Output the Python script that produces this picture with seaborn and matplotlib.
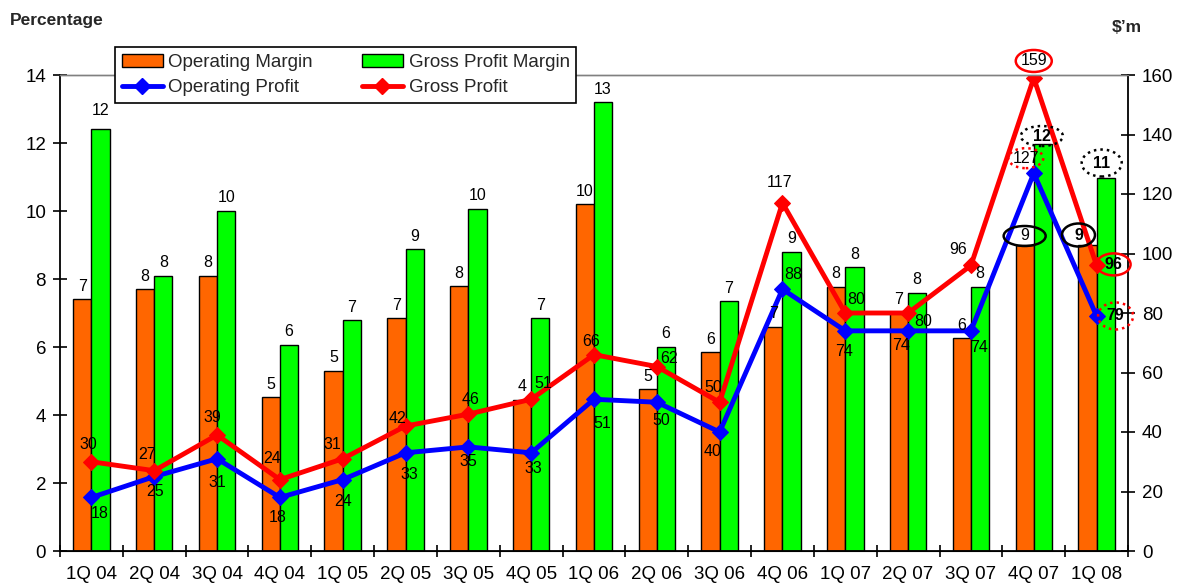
import numpy as np
import pandas as pd
import matplotlib
matplotlib.use('Agg')
import matplotlib.pyplot as plt
import matplotlib.transforms as mtransforms
from matplotlib.patches import Ellipse, Patch
from matplotlib.lines import Line2D
import seaborn as sns

sns.set_style('white')
plt.rcParams['font.family'] = ['Liberation Sans', 'DejaVu Sans']

# data
quarters = ['1Q 04', '2Q 04', '3Q 04', '4Q 04', '1Q 05', '2Q 05', '3Q 05', '4Q 05', '1Q 06',
            '2Q 06', '3Q 06', '4Q 06', '1Q 07', '2Q 07', '3Q 07', '4Q 07', '1Q 08']
op_margin = [7.4, 7.7, 8.1, 4.52, 5.3, 6.85, 7.78, 4.45, 10.2, 4.76, 5.85, 6.6, 7.77, 7.0, 6.26, 9.0, 9.0]
gp_margin = [12.42, 8.1, 10.0, 6.06, 6.78, 8.88, 10.06, 6.85, 13.2, 6.0, 7.35, 8.8, 8.35, 7.6, 7.77, 11.97, 10.97]
op_profit = [18, 25, 31, 18, 24, 33, 35, 33, 51, 50, 40, 88, 74, 74, 74, 127, 79]
gp_profit = [30, 27, 39, 24, 31, 42, 46, 51, 66, 62, 50, 117, 80, 80, 96, 159, 96]

ORANGE = '#FF6600'
GREEN = '#00FF00'
BLUE = '#0000FF'
RED = '#FF0000'

# label offsets in pixels (dx, dy)
op_offsets = [(8, -16), (1, -15), (0, -24), (-2, -20), (0, -22), (4, -22), (0, -15), (2, -16), (8, -24),
              (4, -18), (-7, -19), (11, 15), (-1, -21), (-7, -15), (8, -17), (-8, 15), (19, 0)]
gp_offsets = [(-3, 17), (-7, 16), (-5, 17), (-8, 21), (-10, 14), (-8, 8), (2, 15), (12, 16), (-3, 13),
              (12, 8), (-6, 15), (-3, 20), (11, 13), (15, -8), (-13, 16), (0, 17), (17, 1)]
bar_offsets = {('om', 15): (0, 9), ('om', 16): (-9, 10), ('gm', 15): (-1, 8), ('gm', 16): (-4, 15),
               ('gm', 0): (0, 18)}
# circled labels: (width, height, colour, linestyle, bold)
circled = {
    ('om', 15): (42, 20, 'black', '-', False),
    ('om', 16): (33, 23, 'black', '-', True),
    ('gm', 15): (42, 20, 'black', ':', True),
    ('gm', 16): (40, 27, 'black', ':', True),
    ('gp', 15): (36, 22, RED, '-', False),
    ('gp', 16): (34, 22, RED, '-', True),
    ('op', 15): (35, 20, RED, ':', False),
    ('op', 16): (35, 27, RED, ':', True),
}

n = len(quarters)
df = pd.DataFrame({
    'Quarter': quarters * 2,
    'Margin': op_margin + gp_margin,
    'Series': ['Operating Margin'] * n + ['Gross Profit Margin'] * n,
})

fig = plt.figure(figsize=(11.81, 5.85), dpi=100)
ax = fig.add_axes([60 / 1181, 34 / 585, 1068 / 1181, 476 / 585])

sns.barplot(data=df, x='Quarter', y='Margin', hue='Series', palette=[ORANGE, GREEN],
            width=0.58, saturation=1, edgecolor='black', linewidth=1, legend=False, ax=ax)
ax.set_xlabel('')
ax.set_ylabel('')
ax.set_ylim(0, 14)
ax.set_yticks(np.arange(0, 15, 2))
xpos = ax.get_xticks()
ax.set_xlim(-0.5, n - 0.5)

ax2 = ax.twinx()
sns.lineplot(x=xpos, y=op_profit, ax=ax2, color=BLUE, marker='D', markersize=8,
             markeredgecolor=BLUE, linewidth=3.5)
sns.lineplot(x=xpos, y=gp_profit, ax=ax2, color=RED, marker='D', markersize=8,
             markeredgecolor=RED, linewidth=3.5)
ax2.set_ylim(0, 160)
ax2.set_yticks(np.arange(0, 161, 20))
ax2.set_ylabel('')


def put_label(key, i, text, x, y, trans, dx, dy):
    spec = circled.get((key, i))
    bold = spec is not None and spec[4]
    ax2.annotate(text, xy=(x, y), xycoords=trans, xytext=(dx, dy), textcoords='offset pixels',
                 ha='center', va='center', fontsize=11.5, color='black',
                 fontweight='bold' if bold else 'normal', zorder=5)
    if spec is not None:
        w, h, col, ls, _ = spec
        e = Ellipse((dx, dy), w, h, fill=False, edgecolor=col, linewidth=1.8,
                    linestyle=ls if ls == '-' else (0, (1, 1.6)),
                    transform=mtransforms.ScaledTranslation(x, y, trans), zorder=6, clip_on=False)
        ax2.add_artist(e)


# bar labels
for key, cont, vals in zip(['om', 'gm'], ax.containers, [op_margin, gp_margin]):
    for i, (bar, v) in enumerate(zip(cont, vals)):
        dx, dy = bar_offsets.get((key, i), (0, 13))
        put_label(key, i, f'{v:.0f}', bar.get_x() + bar.get_width() / 2, bar.get_height(),
                  ax.transData, dx, dy)

# line labels
for i in range(n):
    put_label('op', i, str(op_profit[i]), xpos[i], op_profit[i], ax2.transData, *op_offsets[i])
    put_label('gp', i, str(gp_profit[i]), xpos[i], gp_profit[i], ax2.transData, *gp_offsets[i])

# spines and ticks
for a in (ax, ax2):
    a.spines['top'].set_color('gray')
    a.spines['top'].set_linewidth(1)
    a.spines['bottom'].set_color('black')
ax.spines['left'].set_color('black')
ax.spines['left'].set_linewidth(1.3)
ax.spines['right'].set_visible(False)
ax2.spines['left'].set_visible(False)
ax2.spines['right'].set_color('black')
ax2.spines['right'].set_linewidth(1.3)
ax.spines['bottom'].set_linewidth(1.3)

ax.set_xticks(np.arange(n + 1) - 0.5, minor=True)
ax.tick_params(axis='x', which='major', bottom=False, length=0, labelsize=13.5, pad=11, colors='black')
ax.tick_params(axis='x', which='minor', bottom=True, direction='inout', length=9, width=1.2, color='black')
ax.tick_params(axis='y', left=True, direction='inout', length=10, width=1.2, color='black',
               labelsize=13.5, pad=5, labelcolor='black')
ax2.tick_params(axis='y', right=True, direction='inout', length=10, width=1.2, color='black',
                labelsize=13.5, pad=5, labelcolor='black')

# legend
handles = [
    Patch(facecolor=ORANGE, edgecolor='black', label='Operating Margin'),
    Line2D([], [], color=BLUE, lw=3.5, marker='D', markersize=8, label='Operating Profit'),
    Patch(facecolor=GREEN, edgecolor='black', label='Gross Profit Margin'),
    Line2D([], [], color=RED, lw=3.5, marker='D', markersize=8, label='Gross Profit'),
]
leg = fig.legend(handles=handles, ncol=2, loc='upper left', bbox_to_anchor=(115 / 1181, 1 - 47 / 585),
                 frameon=True, fancybox=False, edgecolor='black', framealpha=1, fontsize=13.5,
                 handlelength=2.2, handletextpad=0.3, columnspacing=2.6, labelspacing=0.45,
                 borderpad=0.35, borderaxespad=0)
leg.get_frame().set_linewidth(1.2)
leg.set_zorder(10)

fig.text(10 / 1181, 1 - 20 / 585, 'Percentage', fontsize=12.5, fontweight='bold', va='center', ha='left')
fig.text(1112 / 1181, 1 - 28 / 585, '\\$’m', fontsize=12.5, fontweight='bold', va='center', ha='left')

fig.savefig('out.png', dpi=100)
